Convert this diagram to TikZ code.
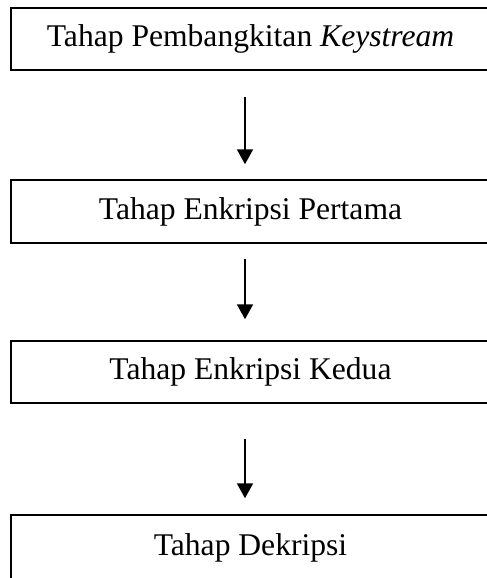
\documentclass[tikz,border=0pt]{standalone}
\usepackage{fontspec}
\setmainfont{Liberation Serif}
\usetikzlibrary{arrows.meta}
\tikzset{
  stagebox/.style={draw, line width=1.5pt, minimum width=500pt, inner sep=0pt,
    font=\fontsize{31.6}{36}\selectfont,
    execute at begin node={\hspace*{-21pt}}},
  flow/.style={line width=2pt, -{Triangle[width=16pt,length=15pt]}}
}
\begin{document}
\begin{tikzpicture}[x=1pt,y=-1pt]
  \useasboundingbox (0,0) rectangle (487,578);
  % tahapan
  \node [stagebox, minimum height=62pt] (keygen) at (261,39) {Tahap Pembangkitan \textit{Keystream}};
  \node [stagebox, minimum height=63pt] (enc1) at (261,211.5) {Tahap Enkripsi Pertama};
  \node [stagebox, minimum height=62pt] (enc2) at (261,372) {Tahap Enkripsi Kedua};
  \node [stagebox, minimum height=66pt] (dec) at (261,548) {Tahap Dekripsi};
  % panah
  \draw [flow] ([xshift=-16pt,yshift=-26pt]keygen.south) -- ([xshift=-16pt,yshift=15pt]enc1.north);
  \draw [flow] ([xshift=-16pt,yshift=-15pt]enc1.south) -- ([xshift=-16pt,yshift=21pt]enc2.north);
  \draw [flow] ([xshift=-16pt,yshift=-35pt]enc2.south) -- ([xshift=-16pt,yshift=16pt]dec.north);
\end{tikzpicture}
\end{document}
